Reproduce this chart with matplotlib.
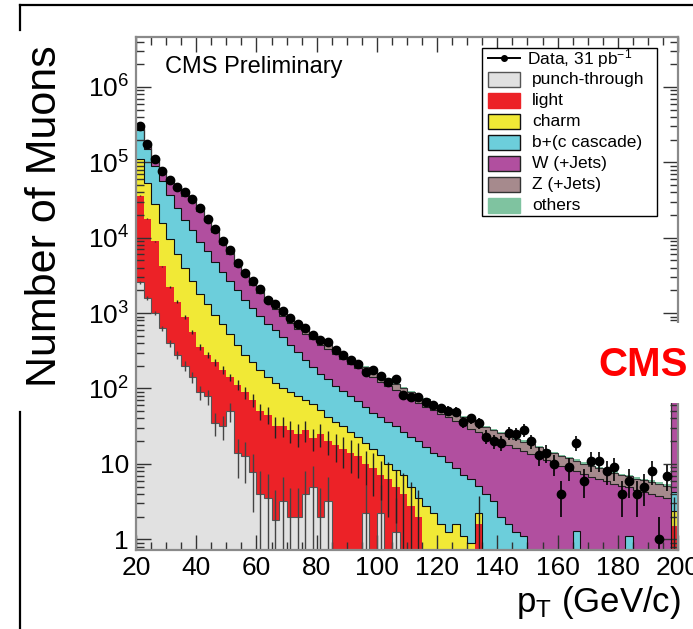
import numpy as np
import matplotlib.pyplot as plt
from matplotlib.patches import Rectangle
from matplotlib.lines import Line2D
from matplotlib.ticker import FixedLocator, LogLocator, MultipleLocator, NullFormatter

plt.rcParams['font.family'] = ['Liberation Sans', 'DejaVu Sans']
plt.rcParams['mathtext.fontset'] = 'custom'
plt.rcParams['mathtext.rm'] = 'Liberation Sans'
plt.rcParams['mathtext.it'] = 'Liberation Sans:italic'
plt.rcParams['mathtext.bf'] = 'Liberation Sans:bold'

# muon pT binning, 2.5 GeV bins from 20 to 200 (last bin holds the overflow)
pt_edges = np.linspace(20, 200, 73)

data = [302000, 174000, 110000, 77600, 57500, 46800, 39800, 33100, 25100, 17800,
        12900, 8910, 6920, 4570, 3390, 2630, 2090, 1510, 1320, 1050,
        851, 724, 631, 513, 437, 417, 324, 275, 240, 214,
        166, 174, 145, 123, 135, 81, 78, 78, 66, 60,
        55, 51, 49, 36, 40, 35, 23, 20, 19, 26,
        25, 28, 20, 13, 14, 10, 4, 9, 19, 6,
        11, 11, 8, 9, 4, 6, 4, 5, 8, 1,
        7, 210]

punch = [2570, 1585, 1000, 631, 398, 282, 200, 141, 89, 79,
         35, 32, 50, 14, 12.6, 7.9, 4.0, 3.5, 1.8, 3.2,
         2.0, 2.0, 4.0, 5.0, 2.0, 3.2, 0, 0, 0, 0,
         2.2, 0, 2.2, 0, 1.26, 0, 0, 0, 0, 0,
         0, 0, 0, 0, 0, 0, 0, 0, 0, 0,
         0, 0, 0, 0, 0, 0, 0, 0, 0, 0,
         0, 0, 0, 0, 0, 0, 0, 0, 0, 0,
         0, 0]

light = [33700, 16200, 7910, 3540, 1840, 1130, 691, 421, 266, 203,
         189, 146, 91, 98, 76, 63, 46, 41.5, 30, 29,
         26, 23, 24, 17, 23, 17, 17.8, 15.8, 14.1, 12.6,
         7.8, 8.9, 4.9, 6.3, 3.7, 4.0, 2.8, 2.0, 0, 0,
         0, 0, 0, 0, 0, 1.6, 0, 0, 0, 0,
         0, 0, 0, 0, 0, 0, 0, 0, 0, 0,
         0, 0, 0, 0, 0, 0, 0, 0, 0, 0,
         0, 1.5]

charm = [73300, 34700, 19300, 11700, 7310, 4620, 3090, 2070, 1420, 1040,
         731, 530, 384, 268, 193, 153, 128, 96, 88, 68,
         61, 54, 43, 41, 27, 22, 17.7, 15.8, 12.2, 9.8,
         9.0, 6.9, 6.1, 3.7, 3.3, 3.1, 2.2, 1.5, 2.8, 2.24,
         1.58, 1.26, 1.58, 1.12, 0.9, 0.64, 0.5, 0, 0, 0,
         0, 0, 0, 0, 0, 0, 0, 0, 0.3, 0,
         0, 0, 0, 0, 0, 0, 0, 0, 0, 0,
         0, 0.9]

bottom_cc = [159400, 98500, 60900, 40400, 26800, 19100, 13400, 9970, 7130, 5290,
             3835, 2840, 2105, 1620, 1228, 951, 734, 583, 469, 379,
             291, 223, 169, 128, 106, 90, 74, 61, 53, 45,
             37, 32, 28.5, 26.3, 23.3, 19.2, 17.4, 16.5, 13.8, 11.9,
             11.0, 9.2, 7.3, 6.0, 5.4, 2.8, 3.5, 3.2, 2.0, 1.6,
             1.26, 1.1, 0.5, 0.3, 0.4, 0.2, 0.2, 0.3, 1.0, 0.2,
             0.2, 0.2, 0.2, 0.2, 0.2, 1.1, 0.2, 0.2, 0.2, 0.2,
             0.2, 1.8]

wjets = [17200, 20800, 21300, 20200, 18160, 18120, 18110, 16940, 14020, 9990,
         6980, 4770, 3370, 2245, 1650, 1192, 927, 686, 533, 435,
         369, 321, 285, 266, 225, 202, 175, 152, 134, 118,
         104, 94, 81, 73, 63, 55.6, 50.4, 44, 40.6, 37.9,
         33.9, 31.7, 28, 25.7, 22.9, 21.3, 19.4, 18.2, 17.2, 16.3,
         15, 13.6, 13.2, 12.2, 10.9, 10.0, 9.15, 8.25, 6.7, 7.1,
         6.5, 6.05, 5.65, 5.24, 4.84, 3.8, 4.3, 4.07, 3.83, 3.55,
         3.37, 150]

zjets = [5900, 4450, 3450, 2380, 4000, 4300, 3980, 3300, 2570, 1860,
         1320, 930, 700, 500, 355, 296, 230, 194, 155, 126,
         113, 94, 86, 75, 69, 60, 51, 47, 41, 36,
         33, 30, 27, 24, 21, 19.4, 17.3, 16.2, 14.5, 12.9,
         12.4, 11, 10.5, 9.4, 8.4, 8, 7.1, 6.5, 6.2, 5.8,
         5.3, 5, 4.65, 4.25, 4.0, 3.7, 3.35, 3.25, 3.0, 2.75,
         2.67, 2.5, 2.3, 2.17, 2.1, 2.0, 1.87, 1.8, 1.77, 1.65,
         1.58, 60]

others = [2900, 1780, 1150, 640, 470, 380, 320, 260, 210, 150,
          110, 80, 60, 45, 35, 27, 21, 16, 13, 10,
          9, 7, 6, 5, 5, 4, 3.4, 3, 2.6, 6.6,
          6, 5.1, 4.5, 3.9, 3.6, 3, 2.7, 2.4, 2.1, 2.1,
          1.8, 1.8, 1.5, 1.5, 1.2, 1.2, 1.2, 0.9, 0.9, 0.9,
          0.9, 0.75, 0.75, 0.6, 0.6, 0.6, 0.6, 0.6, 0.6, 0.45,
          0.45, 0.45, 0.45, 0.45, 0.3, 0.3, 0.3, 0.3, 0.3, 0.3,
          0.3, 3]

# name, values, fill colour, outline colour, error weight
components = [
    ('punch-through', punch, '#e1e1e1', '#555555', 4.0),
    ('light', light, '#ec2227', None, 3.0),
    ('charm', charm, '#f1e936', '#111111', 0),
    ('b+(c cascade)', bottom_cc, '#6ccedb', '#111111', 0),
    ('W (+Jets)', wjets, '#b14f9f', '#222222', 0),
    ('Z (+Jets)', zjets, '#a68a8d', '#333333', 0),
    ('others', others, '#7fc3a0', None, 0),
]

centers = 0.5 * (pt_edges[1:] + pt_edges[:-1])

fig = plt.figure(figsize=(6.93, 6.29), dpi=100)
ax = fig.add_axes([0.1963, 0.1256, 0.7821, 0.8156])
ax.set_yscale('log')

# stacked histogram
base = np.full(len(centers), 1e-3)
tops = []
for name, vals, fc, ec, w in components:
    top = base + np.asarray(vals, dtype=float)
    ax.stairs(top, pt_edges, baseline=base, fill=True, color=fc, lw=0, zorder=1)
    tops.append(top)
    base = top

for (name, vals, fc, ec, w), top in zip(components, tops):
    if ec:
        ax.stairs(top, pt_edges, baseline=None, color=ec, lw=0.8, zorder=2)
    if w > 0:
        v = np.asarray(vals, dtype=float)
        m = v > 0
        err = np.sqrt(v[m] * w)
        ax.vlines(centers[m], np.maximum(top[m] - err, 1e-3), top[m] + err,
                  color='#222222' if name == 'light' else '#444444', lw=1.0, zorder=2)

# data points with Poisson errors
data = np.asarray(data, dtype=float)
ax.errorbar(centers, data, yerr=np.sqrt(data), xerr=1.25, fmt='o', color='k',
            ms=6, lw=1.2, capsize=0, zorder=4)

ax.set_xlim(20, 200)
ax.set_ylim(0.72, 4.6e6)

ax.yaxis.set_major_locator(FixedLocator([1, 10, 1e2, 1e3, 1e4, 1e5, 1e6]))
ax.set_yticklabels(['1', '10', '$10^{2}$', '$10^{3}$', '$10^{4}$', '$10^{5}$', '$10^{6}$'])
ax.yaxis.set_minor_locator(LogLocator(base=10, subs=np.arange(2, 10), numticks=20))
ax.yaxis.set_minor_formatter(NullFormatter())
ax.xaxis.set_major_locator(MultipleLocator(20))
ax.xaxis.set_minor_locator(MultipleLocator(5))

ax.tick_params(which='both', direction='in', top=True, right=True, color='#333333', width=1)
ax.tick_params(which='major', length=11, labelsize=19)
ax.tick_params(which='minor', length=6)
ax.tick_params(axis='y', pad=5)
ax.tick_params(axis='x', pad=4)
for s in ax.spines.values():
    s.set_color('#8a8a8a')
    s.set_linewidth(1.6)
    s.set_zorder(5)

ax.text(0.0535, 0.9415, 'CMS Preliminary', transform=ax.transAxes,
        fontsize=17, ha='left', va='center', zorder=6)

# legend box, drawn by hand in axes fractions
def ax_xy(px, py):
    return (px - 136) / 542, (550 - py) / 513

lx0, ly0 = ax_xy(482, 216)
lx1, ly1 = ax_xy(657, 48)
ax.add_patch(Rectangle((lx0, ly0), lx1 - lx0, ly1 - ly0, transform=ax.transAxes,
                       fc='white', ec='black', lw=1.0, zorder=7))
row_y = [58.5, 79.5, 100.5, 121.5, 142.5, 163.5, 184.5, 205.5]
hx0, _ = ax_xy(488, 0)
hx1, _ = ax_xy(520, 0)
tx_d, _ = ax_xy(527, 0)
tx_p, _ = ax_xy(532, 0)
_, yy = ax_xy(0, row_y[0])
ax.add_line(Line2D([hx0, hx1], [yy, yy], transform=ax.transAxes, color='k', lw=1.4, zorder=8))
ax.add_line(Line2D([(hx0 + hx1) / 2], [yy], transform=ax.transAxes, marker='o', ms=4,
                   color='k', zorder=8))
ax.text(tx_d, yy, 'Data, 31 pb$^{-1}$', transform=ax.transAxes, fontsize=12.5,
        va='center', ha='left', zorder=8)
box_h = 15 / 513
for (name, vals, fc, ec, w), py in zip(components, row_y[1:]):
    _, yy = ax_xy(0, py)
    ax.add_patch(Rectangle((hx0, yy - box_h / 2), hx1 - hx0, box_h, transform=ax.transAxes,
                           fc=fc, ec=ec if ec else fc, lw=1.0, zorder=8))
    ax.text(tx_p, yy, name, transform=ax.transAxes, fontsize=12.5,
            va='center', ha='left', zorder=8)

W, H = 693, 629

def fig_xy(px, py):
    return px / W, (H - py) / H

# outer frame
for (x0, y0), (x1, y1) in [((20, 5), (693, 5)), ((20, 5), (20, 30)), ((20, 412), (20, 629))]:
    a, b = fig_xy(x0, y0)
    c, d = fig_xy(x1, y1)
    fig.add_artist(Line2D([a, c], [b, d], transform=fig.transFigure, color='k', lw=1.6))

fx, fy = fig_xy(45, 216)
fig.text(fx, fy, 'Number of Muons', rotation=90, fontsize=31, ha='center', va='center')

fx, fy = fig_xy(681, 612)
fig.text(fx, fy, 'p$_{\\mathrm{T}}$ (GeV/c)', fontsize=25, ha='right', va='baseline')

# CMS tag on a white patch over the right edge
bx, by = fig_xy(595, 403)
fig.add_artist(Rectangle((bx, by), 98 / W, 80 / H, transform=fig.transFigure,
                         fc='white', ec='none', zorder=5))
fx, fy = fig_xy(643, 365)
fig.text(fx, fy, 'CMS', color='#ff0000', fontsize=29, fontweight='bold',
         ha='center', va='center', zorder=6)

fig.savefig('out.png', dpi=100)
